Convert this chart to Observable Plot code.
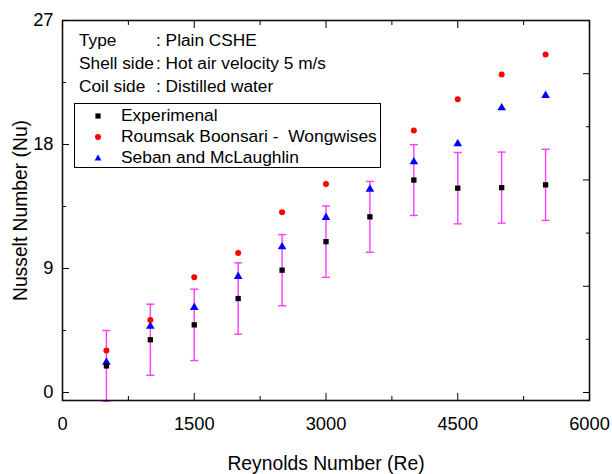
<!DOCTYPE html>
<html><head><meta charset="utf-8">
<script src="https://cdn.jsdelivr.net/npm/d3@7"></script>
<script src="https://cdn.jsdelivr.net/npm/@observablehq/plot@0.6"></script>
<style>
body{margin:0;background:#fff;}
#wrap{position:relative;width:612px;height:474px;font-family:"Liberation Sans",Arial,sans-serif;}
#note{position:absolute;left:79px;top:29px;font-size:17.3px;line-height:23px;color:#000;white-space:pre;}
#note .k{display:inline-block;width:77px;}
#legend{position:absolute;left:74px;top:103px;width:307px;height:65px;border:1px solid #000;background:#fff;box-sizing:border-box;font-size:17.4px;color:#000;}
.row{position:absolute;left:0;width:100%;height:21px;line-height:21px;}
.row svg{position:absolute;left:17px;top:5px;}
.row span{position:absolute;left:46px;white-space:pre;}
</style></head>
<body>
<div id="wrap"></div>
<script>
// Data
const reynolds = [500, 1000, 1500, 2000, 2500, 3000, 3500, 4000, 4500, 5000, 5500];
const nuExperimental = [1.93, 3.83, 4.91, 6.82, 8.88, 10.95, 12.75, 15.42, 14.83, 14.87, 15.07];
const errExperimental = [2.57, 2.58, 2.59, 2.59, 2.58, 2.59, 2.57, 2.57, 2.59, 2.58, 2.58];
const nuBoonsari = [3.05, 5.27, 8.37, 10.13, 13.08, 15.14, null, 19.01, 21.28, 23.08, 24.53];
const nuSeban = [2.2, 4.81, 6.17, 8.42, 10.57, 12.7, 14.75, 16.74, 18.05, 20.66, 21.55];

const xMajorTicks = [0, 1500, 3000, 4500, 6000];
const xMinorTicks = [750, 2250, 3750, 5250];
const yMajorTicks = [0, 9, 18, 27];
const yMinorTicks = [4.5, 13.5, 22.5];
const yRightMajorTicks = [0, 7.71, 15.43, 23.14];
const yRightMinorTicks = [3.86, 11.57, 19.29];

const seriesNames = ["Experimenal", "Roumsak Boonsari -  Wongwises", "Seban and McLaughlin"];
const seriesColors = ["#000000", "#ff0000", "#0000ff"];
const errColor = "#ff3cff";

const noteLabels = ["Type", "Shell side", "Coil side"];
const noteValues = ["Plain CSHE", "Hot air velocity 5 m/s", "Distilled water"];

const rows = reynolds.map((re, i) => ({
  re,
  exp: nuExperimental[i],
  lo: nuExperimental[i] - errExperimental[i],
  hi: nuExperimental[i] + errExperimental[i],
  boon: nuBoonsari[i],
  seban: nuSeban[i]
}));

const capSymbol = {draw(ctx) { ctx.moveTo(-4, 0); ctx.lineTo(4, 0); }};
const noText = () => "";

const chart = Plot.plot({
  width: 612,
  height: 474,
  marginLeft: 62,
  marginRight: 23,
  marginTop: 20,
  marginBottom: 74,
  style: {fontFamily: "'Liberation Sans', Arial, sans-serif", color: "#000", background: "#fff", fontSize: "18px"},
  x: {domain: [0, 6000]},
  y: {domain: [-0.58, 27]},
  marks: [
    Plot.ruleX(rows, {x: "re", y1: "lo", y2: "hi", stroke: errColor, strokeWidth: 1.4}),
    Plot.dot(rows, {x: "re", y: "lo", symbol: capSymbol, stroke: errColor, strokeWidth: 1.4}),
    Plot.dot(rows, {x: "re", y: "hi", symbol: capSymbol, stroke: errColor, strokeWidth: 1.4}),
    Plot.dot(rows, {x: "re", y: "seban", symbol: "triangle", fill: seriesColors[2], r: 3.2}),
    Plot.dot(rows, {x: "re", y: "exp", symbol: "square", fill: seriesColors[0], r: 3}),
    Plot.dot(rows, {x: "re", y: "boon", symbol: "circle", fill: seriesColors[1], r: 3}),
    Plot.frame({stroke: "#111", strokeWidth: 1.6}),
    // inward ticks
    Plot.axisX({ticks: xMajorTicks, anchor: "bottom", tickSize: -7, tickFormat: noText, label: null}),
    Plot.axisX({ticks: xMinorTicks, anchor: "bottom", tickSize: -4, tickFormat: noText, label: null}),
    Plot.axisX({ticks: xMajorTicks, anchor: "top", tickSize: -7, tickFormat: noText, label: null}),
    Plot.axisX({ticks: xMinorTicks, anchor: "top", tickSize: -4, tickFormat: noText, label: null}),
    Plot.axisY({ticks: yMajorTicks, anchor: "left", tickSize: -7, tickFormat: noText, label: null}),
    Plot.axisY({ticks: yMinorTicks, anchor: "left", tickSize: -4, tickFormat: noText, label: null}),
    Plot.axisY({ticks: yRightMajorTicks, anchor: "right", tickSize: -7, tickFormat: noText, label: null}),
    Plot.axisY({ticks: yRightMinorTicks, anchor: "right", tickSize: -4, tickFormat: noText, label: null}),
    // tick labels
    Plot.axisX({ticks: xMajorTicks, anchor: "bottom", tickSize: 0, tickPadding: 16, tickFormat: "d", fontSize: 18.3, label: null}),
    Plot.axisY({ticks: yMajorTicks, anchor: "left", tickSize: 0, tickPadding: 9, tickFormat: "d", fontSize: 18.3, label: null}),
    // axis titles
    Plot.axisX({ticks: [], anchor: "bottom", tickSize: 0, fontSize: 19.3,
      label: "Reynolds Number (Re)", labelAnchor: "center", labelOffset: 69, labelArrow: "none"}),
    Plot.axisY({ticks: [], anchor: "left", tickSize: 0, fontSize: 19.3, dy: 4,
      label: "Nusselt Number (Nu)", labelAnchor: "center", labelOffset: 49, labelArrow: "none"})
  ]
});

const wrap = document.getElementById("wrap");
wrap.appendChild(chart);

// annotation block
const note = document.createElement("div");
note.id = "note";
noteLabels.forEach((k, i) => {
  const line = document.createElement("div");
  const ks = document.createElement("span");
  ks.className = "k";
  ks.textContent = k;
  line.appendChild(ks);
  line.appendChild(document.createTextNode(": " + noteValues[i]));
  note.appendChild(line);
});
wrap.appendChild(note);

// legend
const legend = document.createElement("div");
legend.id = "legend";
const symbolSvg = [
  `<svg width="12" height="12" viewBox="-6 -6 12 12"><rect x="-2.6" y="-2.6" width="5.2" height="5.2" fill="${seriesColors[0]}"/></svg>`,
  `<svg width="12" height="12" viewBox="-6 -6 12 12"><circle r="3" fill="${seriesColors[1]}"/></svg>`,
  `<svg width="12" height="12" viewBox="-6 -6 12 12"><path d="M0,-3.6L3.4,2.4L-3.4,2.4Z" fill="${seriesColors[2]}"/></svg>`
];
seriesNames.forEach((name, i) => {
  const row = document.createElement("div");
  row.className = "row";
  row.style.top = (1 + i * 20.8) + "px";
  row.innerHTML = symbolSvg[i];
  const s = document.createElement("span");
  s.textContent = name;
  row.appendChild(s);
  legend.appendChild(row);
});
wrap.appendChild(legend);
</script>
</body></html>
